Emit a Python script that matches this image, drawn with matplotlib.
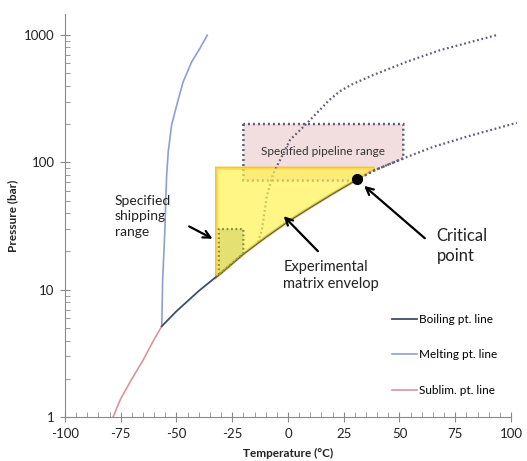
import numpy as np
import matplotlib.pyplot as plt
from matplotlib.patches import Polygon
from matplotlib.ticker import FixedLocator, MultipleLocator, NullFormatter

plt.rcParams['font.family'] = ['Lato', 'DejaVu Sans']
plt.rcParams['axes.unicode_minus'] = False

# CO2 phase lines (temperature in C, pressure in bar)
sub_T = [-78.5, -75, -70, -65, -60, -56.6]
sub_P = [1.0, 1.4, 2.0, 2.8, 4.1, 5.18]

boil_T = [-56.6, -50, -40, -30, -20, -10, 0, 10, 20, 31]
boil_P = [5.18, 6.8, 9.8, 13.6, 19.2, 26.0, 34.5, 44.5, 57.0, 73.8]

melt_T = [-56.6, -56.2, -55.2, -54.8, -54.4, -53.7, -52.2, -49.9, -47.0, -43.2, -39.5, -36.2]
melt_P = [5.18, 12, 29.5, 52, 79.5, 121, 196, 281, 429, 615, 784, 996]

# dotted extension beyond the critical point
super_T = [31, 39.0, 51.7, 65.2, 80.1, 102.6]
super_P = [73.8, 87, 107.5, 132.5, 159, 204.6]

# upper dotted curve
dot_T = [-13.4, -11.7, -9.55, -6.6, -3.6, 0.9, 8.4, 18.5, 23.3, 29.0, 38.1, 53.2, 68.2, 93.6]
dot_P = [23.7, 29.5, 53.8, 82, 104, 150, 202, 308, 362, 412, 484, 615, 760, 998]

crit_T, crit_P = 31, 73.8

# ranges
pipe_T = [-20, 51.7]
pipe_P = [72, 200]
ship_T = [-31, -20]
ship_P_top = 30
env_T = [-32, 38.7]
env_P_top = 90


def boil_at(t):
    return 10 ** np.interp(t, boil_T, np.log10(boil_P))


fig = plt.figure(figsize=(5.27, 4.61), dpi=100)
ax = fig.add_axes([0.1233, 0.0948, 0.8463, 0.8748])

# phase lines
ax.plot(sub_T, sub_P, color='#D9959A', lw=1.2, zorder=2, label='Sublim. pt. line')
ax.plot(boil_T, boil_P, color='#3E4D6E', lw=1.3, zorder=2.2, label='Boiling pt. line')
ax.plot(melt_T, melt_P, color='#8E9FD3', lw=1.2, zorder=2, label='Melting pt. line')

dot_style = dict(color='#5E5E7C', lw=1.6, ls=(0, (0.8, 1.2)))
ax.plot(super_T, super_P, clip_on=False, zorder=2, **dot_style)
ax.plot(dot_T, dot_P, zorder=2, **dot_style)

# pipeline range (pink), cut by the supercritical line
sup_in = [(t, p) for t, p in zip(super_T, super_P) if t <= pipe_T[1]]
pipe_poly = [(pipe_T[0], pipe_P[1]), (pipe_T[0], pipe_P[0]), (crit_T, pipe_P[0])] + sup_in + [(pipe_T[1], pipe_P[1])]
ax.add_patch(Polygon(pipe_poly, closed=True, facecolor='#F2DEDE', edgecolor='none', zorder=1))
ax.add_patch(Polygon(pipe_poly, closed=True, fill=False, edgecolor='#5E5E7C', lw=1.8,
                     ls=(0, (0.8, 1.2)), zorder=2.1))

# experimental envelope (yellow)
boil_in = [(t, p) for t, p in zip(boil_T, boil_P) if env_T[0] < t <= crit_T]
env_poly = [(env_T[0], boil_at(env_T[0])), (env_T[0], env_P_top), (env_T[1], env_P_top)] \
    + [(t, p) for t, p in zip(super_T, super_P) if crit_T < t < env_T[1]][::-1] + boil_in[::-1]
ax.add_patch(Polygon(env_poly, closed=True, fill=False, edgecolor='#F6C244', lw=2.4, zorder=1.5))
ax.add_patch(Polygon(env_poly, closed=True, facecolor=(1.0, 0.95, 0.3, 0.68), edgecolor='none', zorder=3))

# shipping range
ship_boil = [(t, p) for t, p in zip(boil_T, boil_P) if ship_T[0] < t < ship_T[1]]
ship_poly = [(ship_T[0], boil_at(ship_T[0])), (ship_T[0], ship_P_top), (ship_T[1], ship_P_top),
             (ship_T[1], boil_at(ship_T[1]))] + ship_boil[::-1]
ax.add_patch(Polygon(ship_poly, closed=True, facecolor=(0.55, 0.65, 0.2, 0.25), edgecolor='none', zorder=3.1))
ax.add_patch(Polygon(ship_poly, closed=True, fill=False, edgecolor='#8C8C3C', lw=1.6, ls=(0, (0.8, 1.2)),
                     zorder=3.2))

# critical point
ax.plot([crit_T], [crit_P], 'o', color='black', ms=7, zorder=5)

# axes styling
ax.set_yscale('log')
ax.set_xlim(-100, 100)
ax.set_ylim(1, 1460)
ax.xaxis.set_major_locator(MultipleLocator(25))
ax.xaxis.set_minor_locator(MultipleLocator(5))
ax.yaxis.set_major_locator(FixedLocator([1, 10, 100, 1000]))
ax.yaxis.set_major_formatter(plt.FuncFormatter(lambda v, _: '%d' % v))
ax.yaxis.set_minor_formatter(NullFormatter())
for s in ['top', 'right']:
    ax.spines[s].set_visible(False)
for s in ['left', 'bottom']:
    ax.spines[s].set_color('#8A8A8A')
ax.tick_params(which='major', direction='inout', length=7, color='#8A8A8A', labelsize=9.5,
               labelcolor='#222222', pad=4)
ax.tick_params(which='minor', direction='in', length=3.5, color='#8A8A8A')
ax.set_xlabel('Temperature (°C)', fontsize=8.5, fontweight='bold', color='#222222', labelpad=6)
ax.set_ylabel('Pressure (bar)', fontsize=8.5, fontweight='bold', color='#222222', labelpad=4)

# annotations
arrow = dict(arrowstyle='->', color='black', lw=1.6, mutation_scale=13)
ax.text(-77.6, 37.9, 'Specified\nshipping\nrange', fontsize=10, ha='left', va='center',
        linespacing=1.35, color='#222222')
ax.annotate('', xy=(-32.7, 24.6), xytext=(-45.4, 32.2), arrowprops=arrow, zorder=6)

ax.text(-2.1, 12.9, 'Experimental\nmatrix envelop', fontsize=10.5, ha='left', va='center',
        linespacing=1.3, color='#222222')
ax.annotate('', xy=(-2.8, 39.3), xytext=(14.3, 19.4), arrowprops=arrow, zorder=6)

ax.text(66.7, 22.1, 'Critical\npoint', fontsize=12, ha='left', va='center',
        linespacing=1.3, color='#222222')
ax.annotate('', xy=(33.2, 67.6), xytext=(62.3, 24.6), arrowprops=arrow, zorder=6)

ax.text(15.5, 121, 'Specified pipeline range', fontsize=8.5, ha='center', va='center',
        color='#333333', zorder=4)

# legend
h, l = ax.get_legend_handles_labels()
order = [1, 2, 0]
ax.legend([h[i] for i in order], [l[i] for i in order], loc='center left',
          bbox_to_anchor=(0.733, 0.1545), frameon=False, fontsize=8.5,
          handlelength=2.1, handletextpad=0.2, labelspacing=2.05, borderpad=0, borderaxespad=0)

plt.savefig('out.png', dpi=100)
